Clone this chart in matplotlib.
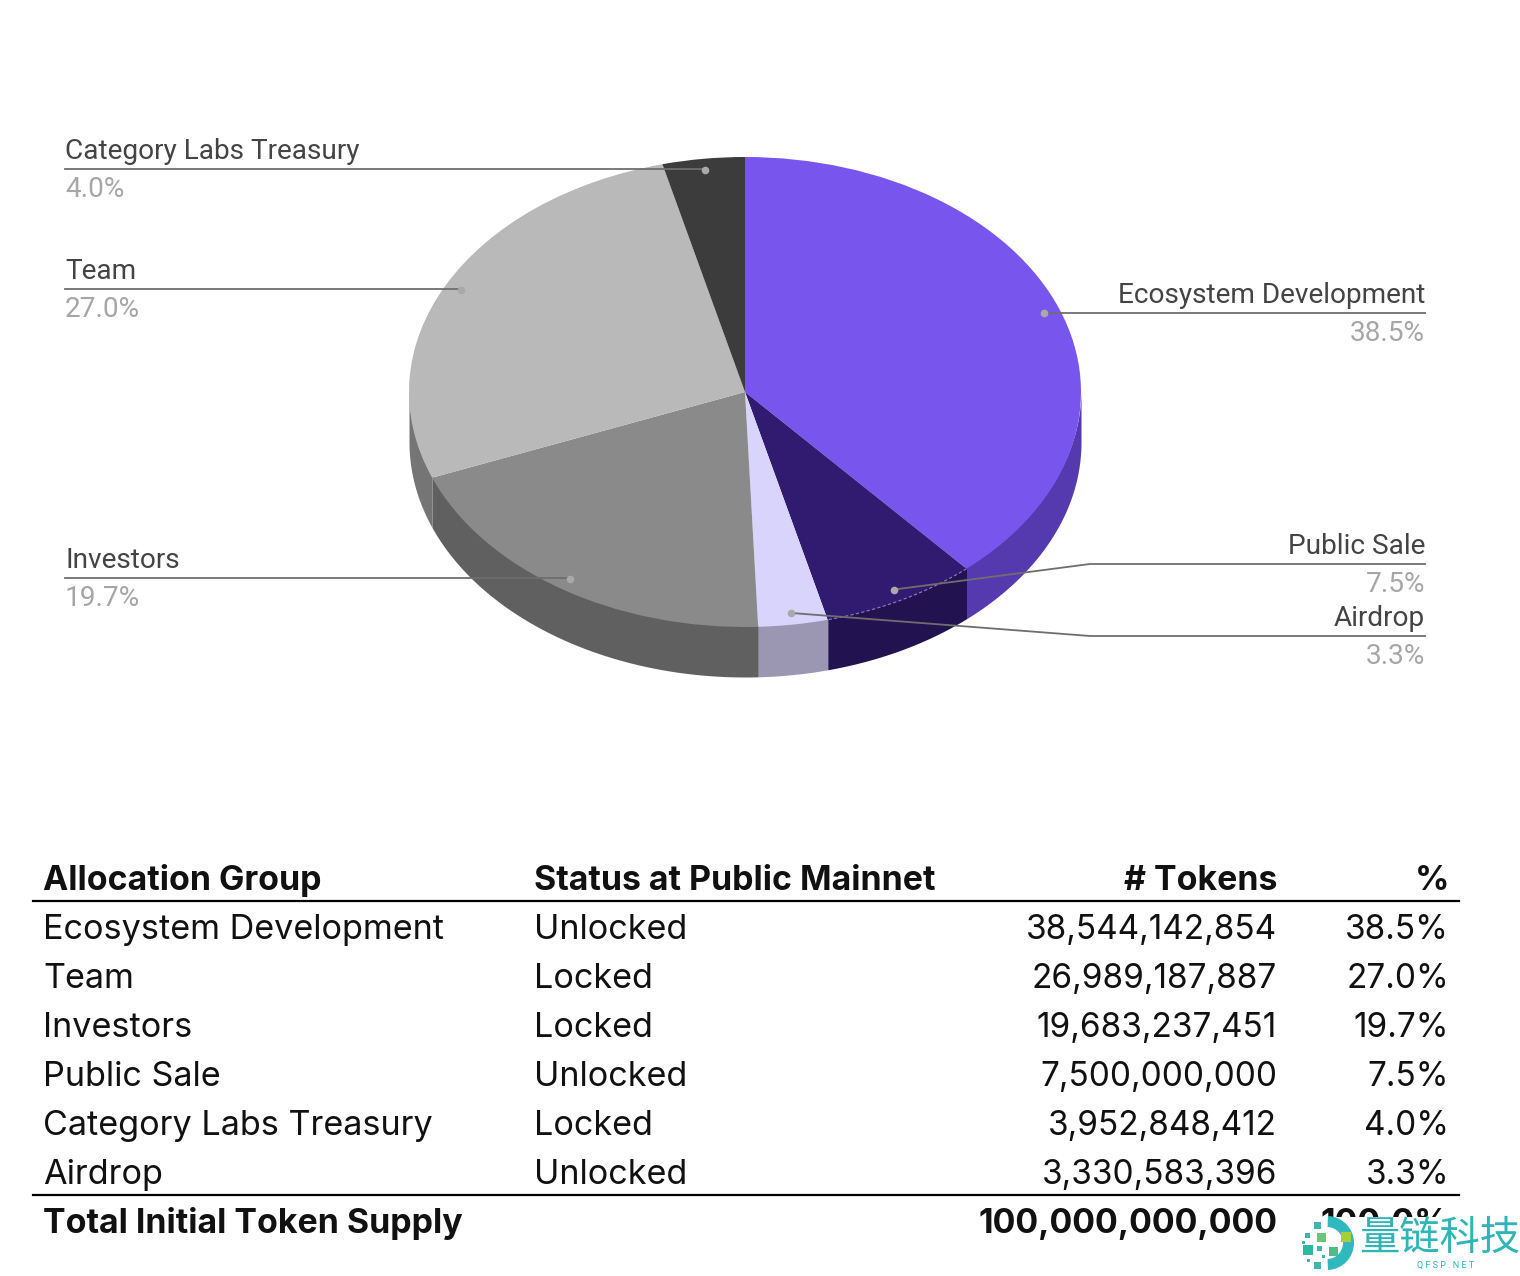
import numpy as np
import matplotlib
matplotlib.use("Agg")
import matplotlib.pyplot as plt
from matplotlib.patches import Rectangle, Wedge

# pie slices, clockwise from the top
SLICE_NAMES = ["Ecosystem Development", "Public Sale", "Airdrop", "Investors", "Team", "Category Labs Treasury"]
SLICE_VALUES = [38544142854, 7500000000, 3330583396, 19683237451, 26989187887, 3952848412]
SLICE_PCT = ["38.5%", "7.5%", "3.3%", "19.7%", "27.0%", "4.0%"]
TOP_COLORS = ["#7856ee", "#311b71", "#d9d4fc", "#8a8a8a", "#b9b9b9", "#3c3c3c"]
SIDE_COLORS = ["#553aaf", "#22124f", "#9b96b2", "#606060", "#757575", "#2c2c2c"]

# table
TABLE_HEADER = ["Allocation Group", "Status at Public Mainnet", "# Tokens", "%"]
TABLE_GROUPS = ["Ecosystem Development", "Team", "Investors", "Public Sale", "Category Labs Treasury", "Airdrop"]
TABLE_STATUS = ["Unlocked", "Locked", "Locked", "Unlocked", "Locked", "Unlocked"]
TABLE_TOKENS = ["38,544,142,854", "26,989,187,887", "19,683,237,451", "7,500,000,000", "3,952,848,412", "3,330,583,396"]
TABLE_PCT = ["38.5%", "27.0%", "19.7%", "7.5%", "4.0%", "3.3%"]
TOTAL_ROW = ["Total Initial Token Supply", "100,000,000,000", "100.0%"]

W, H = 1520, 1276
CX, CY = 745, 392  # pie centre in pixels
RX, RY = 336, 235
DEPTH = 50

fig = plt.figure(figsize=(W / 100, H / 100), dpi=100, facecolor="white")

# pie axes: one unit is RX px across and RY px down, which squashes the circle
pie_ax = fig.add_axes([0, 0, 1, 1])
pie_ax.set_axis_off()

# side wall of the front half, started a bit under the top face so no seam shows
fractions = np.array(SLICE_VALUES) / sum(SLICE_VALUES)
edges = np.concatenate([[0], np.cumsum(fractions)]) * 2 * np.pi
d = DEPTH / RY
for a, b, c in zip(edges[:-1], edges[1:], SIDE_COLORS):
    lo, hi = max(a, np.pi / 2), min(b, 3 * np.pi / 2)
    if hi <= lo:
        continue
    t = np.linspace(lo, hi, 80)
    pie_ax.fill_between(np.sin(t), np.cos(t) + 0.012, np.cos(t) - d, color=c, lw=0, zorder=1)

pie_ax.pie(SLICE_VALUES, colors=TOP_COLORS, startangle=90, counterclock=False, radius=1,
           wedgeprops=dict(linewidth=0, zorder=2))
pie_ax.set_aspect("auto")
pie_ax.set_xlim(-CX / RX, (W - CX) / RX)
pie_ax.set_ylim(-(H - CY) / RY, CY / RY)

# overlay in pixel coordinates for labels and the table
ax = fig.add_axes([0, 0, 1, 1], zorder=5)
ax.set_xlim(0, W)
ax.set_ylim(H, 0)
ax.set_axis_off()
ax.patch.set_alpha(0)

# faint dashed edge where the public sale slice meets the wall
t = np.linspace(edges[1], edges[2], 60)
ax.plot(CX + RX * np.sin(t), CY - RY * np.cos(t), color="#8f7fc8", lw=0.8, ls=(0, (3, 2)), zorder=1)

DARK = "#444444"
GREY = "#a6a6a6"
RULE = "#6e6e6e"
ROBOTO = dict(family="Roboto", fontsize=20.2)

mids = (edges[:-1] + edges[1:]) / 2
dot_x = CX + 0.95 * RX * np.sin(mids)
dot_y = CY - 0.95 * RY * np.cos(mids)

# rule height, far end of the rule, elbow (None = straight), side
LABEL_RULES = [(313, 1425, None, "right"), (564, 1425, 1090, "right"), (636, 1425, 1090, "right"),
               (578, 65, None, "left"), (289, 65, None, "left"), (169, 65, None, "left")]
for i, (ry, xe, elbow, side) in enumerate(LABEL_RULES):
    xs = [dot_x[i], xe] if elbow is None else [dot_x[i], elbow, xe]
    ys = [ry, ry] if elbow is None else [dot_y[i], ry, ry]
    ax.plot(xs, ys, color=RULE, lw=1.3, zorder=3)
    ax.plot(dot_x[i], dot_y[i], "o", ms=5.5, color="#a9a9a9", mew=0, zorder=4)
    ax.text(xe, ry - 4, SLICE_NAMES[i], ha=side, va="bottom", color=DARK, **ROBOTO)
    ax.text(xe, ry + 7, SLICE_PCT[i], ha=side, va="top", color=GREY, **ROBOTO)

# table
INTER = dict(family="Inter", fontsize=24.6, color="#111111", va="baseline")
NUMS = dict(family="Inter", fontsize=24.0, color="#111111", va="baseline", ha="right")
BOLD = dict(family="Inter", fontsize=24.4, color="#111111", va="baseline", fontweight="bold")
COL_X = [43, 534, 1277, 1449]
HEADER_Y = 890
ROW_YS = [939, 988, 1037, 1086, 1135, 1184]
TOTAL_Y = 1233

ax.text(COL_X[0], HEADER_Y, TABLE_HEADER[0], ha="left", **BOLD)
ax.text(COL_X[1], HEADER_Y, TABLE_HEADER[1], ha="left", **BOLD)
ax.text(COL_X[2], HEADER_Y, TABLE_HEADER[2], ha="right", **BOLD)
ax.text(COL_X[3], HEADER_Y, TABLE_HEADER[3], ha="right", **BOLD)
ax.plot([33, 1459], [901, 901], color="black", lw=1.6)
for y, g, s, n, p in zip(ROW_YS, TABLE_GROUPS, TABLE_STATUS, TABLE_TOKENS, TABLE_PCT):
    ax.text(COL_X[0], y, g, ha="left", **INTER)
    ax.text(COL_X[1], y, s, ha="left", **INTER)
    ax.text(COL_X[2], y, n, **NUMS)
    ax.text(COL_X[3], y, p, **NUMS)
ax.plot([33, 1459], [1195, 1195], color="black", lw=1.6)
ax.text(COL_X[0], TOTAL_Y, TOTAL_ROW[0], ha="left", **BOLD)
ax.text(COL_X[2], TOTAL_Y, TOTAL_ROW[1], ha="right", **BOLD)
ax.text(COL_X[3], TOTAL_Y, TOTAL_ROW[2], ha="right", **BOLD)

# watermark sits on a white block that hides most of the total percentage
ax.add_patch(Rectangle((1298, 1217), 222, 59, color="white", lw=0, zorder=6))
TEAL = "#2fb8bd"
ax.add_patch(Wedge((1327, 1243), 27, -88, 88, width=11, color=TEAL, lw=0, zorder=7))
# logo squares: centre x, centre y, size, colour
LOGO_SQUARES = [(1317, 1225, 7, "#3fb5ae"), (1307, 1235, 5, "#3fb5ae"), (1321, 1237, 9, "#6cc47a"),
                (1346, 1237, 10, "#a8cc3c"), (1308, 1250, 10, "#2db7a5"), (1333, 1251, 9, "#55b985"),
                (1319, 1248, 5, "#3fb5ae"), (1317, 1265, 7, "#3fb5ae"), (1308, 1260, 3, "#3fb5ae"),
                (1303, 1242, 3, "#3fb5ae"), (1323, 1256, 3, "#3fb5ae")]
for sx, sy, size, c in LOGO_SQUARES:
    ax.add_patch(Rectangle((sx - size / 2, sy - size / 2), size, size, color=c, lw=0, zorder=8))
ax.text(1440, 1238, "量链科技", family=["Noto Sans CJK SC", "DejaVu Sans"], fontsize=29, color="#2fb5b8",
        ha="center", va="center", zorder=8)
ax.text(1446, 1265, "Q F S P . N E T", family="Roboto", fontsize=6.5, color="#2fb5b8", ha="center", va="center",
        zorder=8)

fig.savefig("out.png", dpi=100)
